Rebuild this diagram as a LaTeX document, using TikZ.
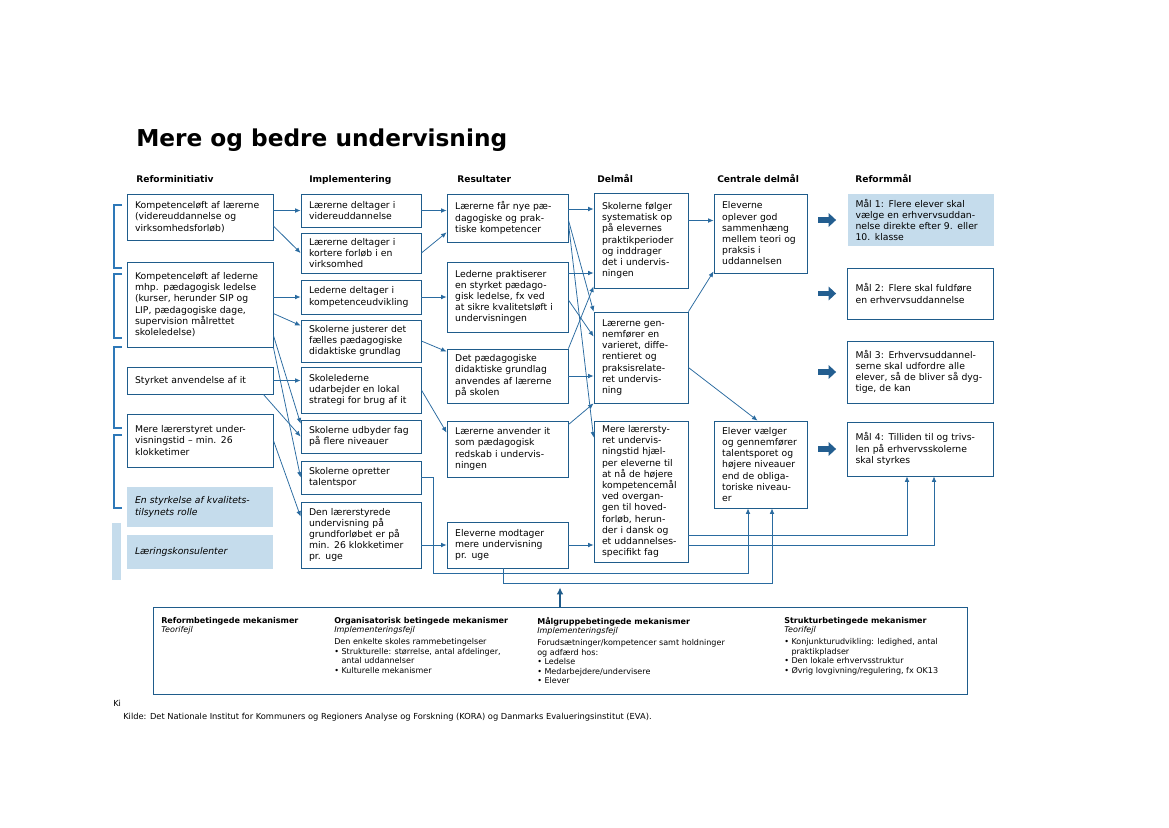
\documentclass[tikz,border=0pt]{standalone}
\usepackage{fontspec}
\setmainfont{DejaVu Sans}
\usetikzlibrary{arrows.meta,calc}

\definecolor{boxblue}{HTML}{1F5C8B}
\definecolor{lineblue}{HTML}{2A6BA0}
\definecolor{fatblue}{HTML}{235E90}
\definecolor{lightfill}{HTML}{C5DCEC}
\definecolor{bracketblue}{HTML}{2E78B8}

\begin{document}
\begin{tikzpicture}[x=0.254mm, y=-0.254mm,
  box/.style={draw=boxblue, line width=0.6pt, align=left, inner xsep=2.03mm, inner ysep=1pt,
    font=\fontsize{6.7}{8.1}\selectfont},
  colA/.style={box, minimum width=37.08mm, text width=33mm},
  colB/.style={box, minimum width=30.48mm, text width=26.4mm},
  colC/.style={box, minimum width=30.73mm, text width=26.6mm},
  colD/.style={box, minimum width=23.88mm, text width=19.8mm},
  colE/.style={box, minimum width=23.62mm, text width=19.5mm},
  colF/.style={box, minimum width=37.08mm, text width=33mm},
  shaded/.style={draw=none, fill=lightfill},
  head/.style={anchor=base west, inner sep=0pt, font=\bfseries\fontsize{6.6}{8}\selectfont},
  mech/.style={anchor=north west, align=left, inner sep=0pt, font=\fontsize{5.8}{6.9}\selectfont},
  conn/.style={draw=lineblue, line width=0.55pt, -{Latex[length=4pt,width=3.4pt]}},
  fatarrow/.style={draw=fatblue, line width=1.5mm, -{Triangle[length=1.9mm,width=3.4mm]}},
  bracket/.style={draw=bracketblue, line width=1.1pt}]

  \useasboundingbox (0,0) rectangle (1169,827);
  \fill[white] (0,0) rectangle (1169,827);

  % title and column heads
  \node[anchor=base west, inner sep=0pt, font=\bfseries\fontsize{16.8}{20}\selectfont] (title) at (136,146) {Mere og bedre undervisning};
  \node[head] (h1) at (136,182) {Reforminitiativ};
  \node[head] (h2) at (309,182) {Implementering};
  \node[head] (h3) at (457,182) {Resultater};
  \node[head] (h4) at (597,182) {Delmål};
  \node[head] (h5) at (717,182) {Centrale delmål};
  \node[head] (h6) at (855,182) {Reformmål};

  % brackets on the left
  \foreach \ya/\yb in {205/268,274/338,347/428,435/508}
    \draw[bracket] (122,\ya) -| (114,\yb) -- (122,\yb);
  \fill[lightfill] (112,523) rectangle (121,580);

  % reforminitiativ
  \node[colA, minimum height=11.68mm] (A1) at (200,217) {Kompetenceløft af lærerne\\(videreuddannelse og\\virksomhedsforløb)};
  \node[colA, minimum height=21.59mm] (A2) at (200,304.5) {Kompetenceløft af lederne\\mhp. pædagogisk ledelse\\(kurser, herunder SIP og\\LIP, pædagogiske dage,\\supervision målrettet\\skoleledelse)};
  \node[colA, minimum height=6.86mm] (A3) at (200,380.5) {Styrket anvendelse af it};
  \node[colA, minimum height=13.46mm] (A4) at (200,440.5) {Mere lærerstyret under-\\visningstid – min. 26\\klokketimer};
  \node[colA, shaded, minimum height=10.16mm] (A5) at (200,507) {\itshape En styrkelse af kvalitets-\\tilsynets rolle};
  \node[colA, shaded, minimum height=8.64mm] (A6) at (200,552) {\itshape Læringskonsulenter};

  % implementering
  \node[colB, minimum height=8.38mm] (B1) at (361,210.5) {Lærerne deltager i\\videreuddannelse};
  \node[colB, minimum height=10.16mm] (B2) at (361,253) {Lærerne deltager i\\kortere forløb i en\\virksomhed};
  \node[colB, minimum height=8.64mm] (B3) at (361,297) {Lederne deltager i\\kompetenceudvikling};
  \node[colB, minimum height=10.67mm] (B4) at (361,341) {Skolerne justerer det\\fælles pædagogiske\\didaktiske grundlag};
  \node[colB, minimum height=11.68mm] (B5) at (361,390) {Skolelederne\\udarbejder en lokal\\strategi for brug af it};
  \node[colB, minimum height=8.38mm] (B6) at (361,436.5) {Skolerne udbyder fag\\på flere niveauer};
  \node[colB, minimum height=8.38mm] (B7) at (361,477.5) {Skolerne opretter\\talentspor};
  \node[colB, minimum height=16.76mm] (B8) at (361,535) {Den lærerstyrede\\undervisning på\\grundforløbet er på\\min. 26 klokketimer\\pr. uge};

  % resultater
  \node[colC, minimum height=12.19mm] (C1) at (507.5,218) {Lærerne får nye pæ-\\dagogiske og prak-\\tiske kompetencer};
  \node[colC, minimum height=17.78mm] (C2) at (507.5,297) {Lederne praktiserer\\en styrket pædago-\\gisk ledelse, fx ved\\at sikre kvalitetsløft i\\undervisningen};
  \node[colC, minimum height=13.72mm] (C3) at (507.5,376) {Det pædagogiske\\didaktiske grundlag\\anvendes af lærerne\\på skolen};
  \node[colC, minimum height=14.22mm] (C4) at (507.5,449) {Lærerne anvender it\\som pædagogisk\\redskab i undervis-\\ningen};
  \node[colC, minimum height=11.68mm] (C5) at (507.5,545) {Eleverne modtager\\mere undervisning\\pr. uge};

  % delmaal
  \node[colD, minimum height=24.13mm] (D1) at (641,240.5) {Skolerne følger\\systematisk op\\på elevernes\\praktikperioder\\og inddrager\\det i undervis-\\ningen};
  \node[colD, minimum height=23.11mm] (D2) at (641,357.5) {Lærerne gen-\\nemfører en\\varieret, diffe-\\rentieret og\\praksisrelate-\\ret undervis-\\ning};
  \node[colD, minimum height=35.81mm] (D3) at (641,491.5) {Mere lærersty-\\ret undervis-\\ningstid hjæl-\\per eleverne til\\at nå de højere\\kompetencemål\\ved overgan-\\gen til hoved-\\forløb, herun-\\der i dansk og\\et uddannelses-\\specifikt fag};

  % centrale delmaal
  \node[colE, minimum height=20.07mm] (E1) at (760.5,233.5) {Eleverne\\oplever god\\sammenhæng\\mellem teori og\\praksis i\\uddannelsen};
  \node[colE, minimum height=22.10mm] (E2) at (760.5,464.5) {Elever vælger\\og gennemfører\\talentsporet og\\højere niveauer\\end de obliga-\\toriske niveau-\\er};

  % reformmaal
  \node[colF, shaded, minimum height=13.21mm] (F1) at (920.5,220) {Mål 1: Flere elever skal\\vælge en erhvervsuddan-\\nelse direkte efter 9. eller\\10. klasse};
  \node[colF, minimum height=12.95mm] (F2) at (920.5,293.5) {Mål 2: Flere skal fuldføre\\en erhvervsuddannelse};
  \node[colF, minimum height=15.75mm] (F3) at (920.5,372) {Mål 3: Erhvervsuddannel-\\serne skal udfordre alle\\elever, så de bliver så dyg-\\tige, de kan};
  \node[colF, minimum height=13.72mm] (F4) at (920.5,449) {Mål 4: Tilliden til og trivs-\\len på erhvervsskolerne\\skal styrkes};

  \foreach \g in {F1,F2,F3,F4}
    \draw[fatarrow] ($(\g.west)+(-29,0)$) -- ($(\g.west)+(-11,0)$);

  % reforminitiativ -> implementering
  \draw[conn] (A1.east |- B1.west) -- (B1.west);
  \draw[conn] ($(A1.east)+(0,9)$) -- (B2.west);
  \draw[conn] (A2.east |- B3.west) -- (B3.west);
  \draw[conn] ($(A2.east)+(0,9)$) -- ($(B4.north west)+(0,6)$);
  \draw[conn] ($(A2.south east)+(0,-12)$) -- ($(B6.north west)+(0,4)$);
  \draw[conn] (A2.south east) -- (B7.west);
  \draw[conn] (A3.east) -- (A3.east -| B5.west);
  \draw[conn] ($(A3.south east)+(-10,0)$) -- (B6.west);
  \draw[conn] (A4.east) -- ($(B8.north west)+(0,15)$);

  % implementering -> resultater
  \draw[conn] (B1.east) -- (B1.east -| C1.west);
  \draw[conn] (B2.east) -- ($(C1.south west)+(0,-10)$);
  \draw[conn] (B3.east) -- (B3.east -| C2.west);
  \draw[conn] (B4.east) -- ($(C3.north west)+(0,3)$);
  \draw[conn] (B5.east) -- ($(C4.north west)+(0,12)$);
  \draw[conn] (B8.east |- C5.west) -- (C5.west);
  \draw[conn] (B7.east) -- ++(12,0) |- ($(E2.south)+(-12.5,65)$) -- ($(E2.south)+(-12.5,0)$);
  \draw[conn] ($(C5.south)+(-4.5,0)$) -- ++(0,15) -| ($(E2.south)+(11.5,0)$);

  % resultater -> delmaal
  \coordinate (c1o) at ($(C1.east)+(0,-9)$);
  \coordinate (c2o) at ($(C2.east)+(0,-24)$);
  \draw[conn] (c1o) -- (c1o -| D1.west);
  \draw[conn] ($(C1.east)+(0,2)$) -- (D2.north west);
  \draw[conn] ($(C1.east)+(0,5)$) -- ($(D3.north west)+(0,17)$);
  \draw[conn] (c2o) -- (c2o -| D1.west);
  \draw[conn] ($(C2.east)+(0,3)$) -- ($(D2.north west)+(0,25)$);
  \draw[conn] (C3.north east) -- ($(D1.south west)+(0,-2)$);
  \draw[conn] (C3.east) -- (C3.east -| D2.west);
  \draw[conn] ($(C4.north east)+(0,4)$) -- (D2.south west);
  \draw[conn] (C5.east) -- (C5.east -| D3.west);

  % delmaal -> centrale delmaal / reformmaal
  \coordinate (d1o) at ($(D1.east)+(0,-20)$);
  \draw[conn] (d1o) -- (d1o -| E1.west);
  \draw[conn] (D2.north east) -- ($(E1.south west)+(0,-2)$);
  \draw[conn] ($(D2.east)+(0,10)$) -- ($(E2.north)+(-3,0)$);
  \draw[conn] ($(D3.east)+(0,43.5)$) -| ($(F4.south)+(-13.5,0)$);
  \draw[conn] ($(D3.east)+(0,53.5)$) -| ($(F4.south)+(13.5,0)$);

  % mekanismer
  \node[draw=boxblue, line width=0.7pt, minimum width=206.76mm, minimum height=22.1mm] (M) at (560,650.5) {};
  \draw[draw=boxblue, line width=1.2pt, -{Latex[length=5pt,width=5pt]}] (M.north) -- ++(0,-19);
  \node[mech] (m1) at (161,617) {\textbf{Reformbetingede mekanismer}\\\textit{Teorifejl}};
  \node[mech] (m2) at (334,617) {\textbf{Organisatorisk betingede mekanismer}\\\textit{Implementeringsfejl}\\[1.5pt]Den enkelte skoles rammebetingelser\\• Strukturelle: størrelse, antal afdelinger,\\\hspace*{0.9em}antal uddannelser\\• Kulturelle mekanismer};
  \node[mech] (m3) at (537,617) {\textbf{Målgruppebetingede mekanismer}\\\textit{Implementeringsfejl}\\[1.5pt]Forudsætninger/kompetencer samt holdninger\\og adfærd hos:\\• Ledelse\\• Medarbejdere/undervisere\\• Elever};
  \node[mech] (m4) at (784,617) {\textbf{Strukturbetingede mekanismer}\\\textit{Teorifejl}\\[1.5pt]• Konjunkturudvikling: ledighed, antal\\\hspace*{0.9em}praktikpladser\\• Den lokale erhvervsstruktur\\• Øvrig lovgivning/regulering, fx OK13};

  % kilde
  \node[anchor=base west, inner sep=0pt, font=\fontsize{6}{7}\selectfont] (ki) at (113,706) {Ki};
  \node[anchor=base west, inner sep=0pt, font=\fontsize{6}{7}\selectfont] (src) at (123,719) {Kilde: Det Nationale Institut for Kommuners og Regioners Analyse og Forskning (KORA) og Danmarks Evalueringsinstitut (EVA).};
\end{tikzpicture}
\end{document}
